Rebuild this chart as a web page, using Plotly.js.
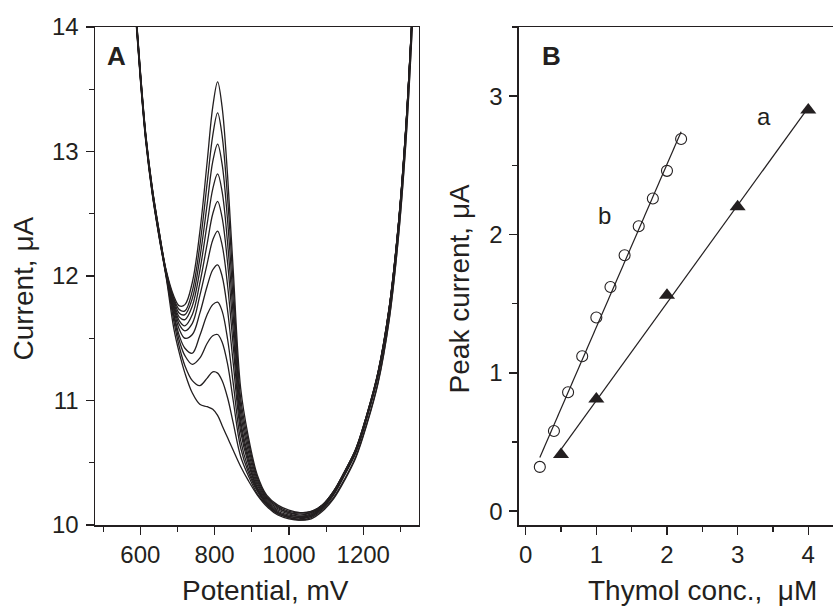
<!DOCTYPE html>
<html><head><meta charset="utf-8">
<script src="https://cdn.plot.ly/plotly-3.0.1.min.js"></script>
<style>html,body{margin:0;padding:0;background:#fff;overflow:hidden}</style>
</head><body><div id="chart" style="width:833px;height:610px"></div>
<script>
// Panel A: potential axis (mV) shared by all voltammograms
const potential = [588,600,615,632,650,670,690,705,720,740,760,780,795,808,820,835,850,870,890,915,940,970,1000,1030,1060,1090,1120,1150,1180,1210,1240,1270,1295,1315,1330,1340];
const curve0 = [14.06,13.58,13.07,12.66,12.32,11.98,11.58,11.38,11.22,11.06,10.97,10.95,10.93,10.88,10.80,10.70,10.60,10.47,10.36,10.24,10.15,10.08,10.05,10.04,10.05,10.11,10.21,10.36,10.54,10.81,11.14,11.65,12.32,13.08,13.88,14.5];
const curve1 = [14.07,13.59,13.08,12.67,12.33,11.99,11.64,11.43,11.28,11.16,11.12,11.18,11.23,11.22,11.16,11.02,10.82,10.55,10.40,10.25,10.16,10.09,10.06,10.04,10.06,10.12,10.22,10.37,10.55,10.82,11.15,11.66,12.33,13.10,13.90,14.52];
const curve2 = [14.08,13.60,13.09,12.67,12.33,12.00,11.68,11.48,11.36,11.29,11.34,11.46,11.52,11.53,11.47,11.29,11.00,10.62,10.43,10.27,10.17,10.09,10.06,10.05,10.07,10.13,10.24,10.40,10.58,10.86,11.20,11.72,12.40,13.18,13.98,14.58];
const curve3 = [14.08,13.60,13.09,12.68,12.34,12.00,11.70,11.52,11.42,11.38,11.52,11.69,11.77,11.79,11.72,11.49,11.14,10.68,10.46,10.28,10.17,10.10,10.07,10.06,10.07,10.14,10.25,10.41,10.59,10.87,11.21,11.73,12.41,13.19,13.99,14.59];
const curve4 = [14.09,13.61,13.10,12.68,12.34,12.01,11.73,11.57,11.50,11.53,11.70,11.92,12.05,12.09,12.00,11.72,11.30,10.75,10.50,10.29,10.18,10.10,10.07,10.06,10.08,10.14,10.25,10.41,10.59,10.87,11.21,11.73,12.41,13.19,13.99,14.59];
const curve5 = [14.10,13.62,13.10,12.69,12.35,12.01,11.75,11.61,11.56,11.62,11.84,12.10,12.29,12.36,12.25,11.92,11.44,10.80,10.53,10.30,10.19,10.11,10.08,10.07,10.08,10.15,10.26,10.42,10.60,10.88,11.22,11.74,12.42,13.20,14.00,14.60];
const curve6 = [14.10,13.62,13.11,12.69,12.35,12.02,11.77,11.64,11.60,11.69,11.94,12.26,12.50,12.60,12.47,12.10,11.56,10.84,10.56,10.32,10.20,10.12,10.09,10.07,10.09,10.15,10.26,10.42,10.60,10.88,11.22,11.74,12.42,13.20,14.00,14.60];
const curve7 = [14.11,13.63,13.11,12.70,12.36,12.02,11.79,11.67,11.65,11.76,12.04,12.42,12.70,12.82,12.68,12.26,11.68,10.90,10.60,10.34,10.21,10.13,10.10,10.08,10.10,10.15,10.26,10.42,10.60,10.88,11.22,11.74,12.42,13.20,14.00,14.60];
const curve8 = [14.12,13.64,13.12,12.70,12.36,12.03,11.81,11.70,11.69,11.82,12.14,12.58,12.92,13.06,12.90,12.44,11.80,10.96,10.64,10.36,10.22,10.14,10.10,10.09,10.10,10.16,10.27,10.43,10.61,10.89,11.23,11.75,12.43,13.21,14.01,14.61];
const curve9 = [14.12,13.64,13.12,12.71,12.37,12.03,11.82,11.73,11.72,11.88,12.24,12.75,13.13,13.31,13.13,12.62,11.93,11.02,10.68,10.38,10.23,10.15,10.11,10.10,10.11,10.16,10.27,10.43,10.61,10.89,11.23,11.75,12.43,13.21,14.01,14.61];
const curve10 = [14.13,13.65,13.13,12.71,12.37,12.04,11.84,11.76,11.77,11.95,12.35,12.92,13.36,13.56,13.36,12.80,12.05,11.10,10.72,10.40,10.24,10.16,10.12,10.10,10.11,10.16,10.27,10.43,10.61,10.89,11.23,11.75,12.43,13.21,14.01,14.61];

// Panel B: calibration data
const concB = [0.2,0.4,0.6,0.8,1.0,1.2,1.4,1.6,1.8,2.0,2.2];
const currentB = [0.32,0.58,0.86,1.12,1.40,1.62,1.85,2.06,2.26,2.46,2.69];
const concA = [0.5,1,2,3,4];
const currentA = [0.41,0.81,1.56,2.20,2.90];

const ink = '#231f20';
const FONT = 'Liberation Sans, Arial, Helvetica, sans-serif';

function fit(xs, ys) {
  const n = xs.length;
  const mx = xs.reduce((a,b)=>a+b,0)/n, my = ys.reduce((a,b)=>a+b,0)/n;
  let sxy = 0, sxx = 0;
  for (let i=0;i<n;i++){ sxy += (xs[i]-mx)*(ys[i]-my); sxx += (xs[i]-mx)**2; }
  const k = sxy/sxx, b = my - k*mx;
  const x0 = Math.min(...xs), x1 = Math.max(...xs);
  return {x:[x0,x1], y:[b+k*x0, b+k*x1]};
}

const curves = [curve0,curve1,curve2,curve3,curve4,curve5,curve6,curve7,curve8,curve9,curve10];
const traces = curves.map(c => ({
  x: potential, y: c, type:'scatter', mode:'lines', xaxis:'x', yaxis:'y',
  line:{color:ink, width:1.3, shape:'spline', smoothing:1}, hoverinfo:'skip'
}));
const fb = fit(concB, currentB), fa = fit(concA, currentA);
traces.push({x:fb.x, y:fb.y, type:'scatter', mode:'lines', xaxis:'x2', yaxis:'y2', line:{color:ink, width:1.2}});
traces.push({x:fa.x, y:fa.y, type:'scatter', mode:'lines', xaxis:'x2', yaxis:'y2', line:{color:ink, width:1.2}});
traces.push({x:concB, y:currentB, type:'scatter', mode:'markers', xaxis:'x2', yaxis:'y2',
  marker:{symbol:'circle-open', size:11, color:ink, line:{width:1.1, color:ink}}});
traces.push({x:concA, y:currentA, type:'scatter', mode:'markers', xaxis:'x2', yaxis:'y2',
  marker:{symbol:'triangle-up', size:14, color:ink, line:{width:0}}});

const axBase = {
  showgrid:false, zeroline:false, showline:true, linecolor:ink, linewidth:1.5,
  ticks:'outside', ticklen:8, tickwidth:1.5, tickcolor:ink,
  tickfont:{family:FONT, size:24, color:ink}, fixedrange:true
};
const layout = {
  width:833, height:610, margin:{l:95, r:0, t:27, b:85},
  paper_bgcolor:'#fff', plot_bgcolor:'#fff', showlegend:false,
  font:{family:FONT, color:ink},
  xaxis: Object.assign({}, axBase, {domain:[0,0.439], range:[478,1350], tick0:600, dtick:200, mirror:true, anchor:'y',
    minor:{dtick:100, tick0:500, ticks:'outside', ticklen:5, tickwidth:1.2, tickcolor:ink, showgrid:false}}),
  yaxis: Object.assign({}, axBase, {domain:[0,1], range:[10,14], dtick:1, mirror:true, anchor:'x', ticklabelstandoff:2,
    minor:{dtick:0.5, ticks:'outside', ticklen:5, tickwidth:1.2, tickcolor:ink, showgrid:false}}),
  xaxis2: Object.assign({}, axBase, {domain:[0.5745,1], range:[-0.095,4.35], tick0:0, dtick:1, mirror:true, anchor:'y2',
    minor:{dtick:0.5, ticks:'outside', ticklen:5, tickwidth:1.2, tickcolor:ink, showgrid:false}}),
  yaxis2: Object.assign({}, axBase, {domain:[0,1], range:[-0.1,3.5], tick0:0, dtick:1, mirror:false, anchor:'x2', ticklabelstandoff:2,
    minor:{dtick:0.5, ticks:'outside', ticklen:5, tickwidth:1.2, tickcolor:ink, showgrid:false}}),
  annotations: [
    {text:'<b>A</b>', x:537, y:13.77, xref:'x', yref:'y', showarrow:false, font:{family:FONT, size:26, color:ink}},
    {text:'<b>B</b>', x:0.37, y:3.29, xref:'x2', yref:'y2', showarrow:false, font:{family:FONT, size:26, color:ink}},
    {text:'a', x:3.37, y:2.85, xref:'x2', yref:'y2', showarrow:false, font:{family:FONT, size:24, color:ink}},
    {text:'b', x:1.11, y:2.14, xref:'x2', yref:'y2', showarrow:false, font:{family:FONT, size:24, color:ink}},
    {text:'Current, μA', textangle:-90, x:-0.222, y:0.475, xref:'x domain', yref:'paper', xanchor:'center', yanchor:'middle', showarrow:false, font:{family:FONT, size:28, color:ink}},
    {text:'Peak current, μA', textangle:-90, x:-0.188, y:0.475, xref:'x2 domain', yref:'paper', xanchor:'center', yanchor:'middle', showarrow:false, font:{family:FONT, size:28, color:ink}},
    {text:'Potential, mV', x:0.525, y:-0.132, xref:'x domain', yref:'paper', xanchor:'center', yanchor:'middle', showarrow:false, font:{family:FONT, size:28, color:ink}},
    {text:'Thymol conc.,  μM', x:0.585, y:-0.132, xref:'x2 domain', yref:'paper', xanchor:'center', yanchor:'middle', showarrow:false, font:{family:FONT, size:28, color:ink}}
  ]
};
Plotly.newPlot('chart', traces, layout, {staticPlot:true, displayModeBar:false});
</script></body></html>
